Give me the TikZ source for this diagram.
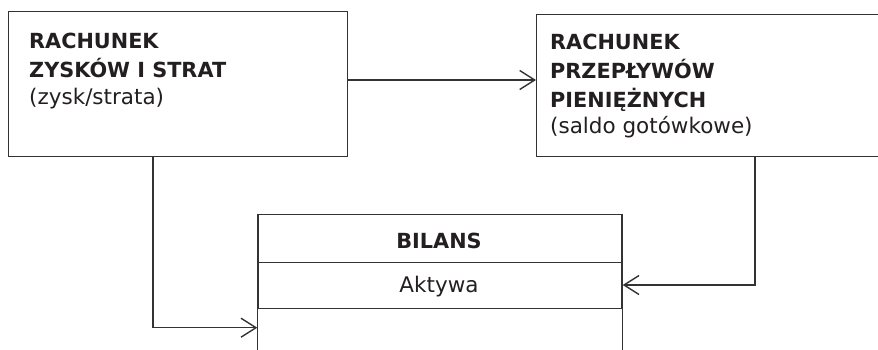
\documentclass[tikz,border=0pt]{standalone}
\usepackage{fontspec}
\setmainfont{DejaVu Sans}
\usetikzlibrary{arrows.meta}
\definecolor{ink}{HTML}{231F20}
\definecolor{linecol}{HTML}{333333}
\begin{document}
\begin{tikzpicture}[x=1pt,y=-1pt,
  box/.style={draw=linecol,line width=1.4pt,rectangle,inner sep=0pt},
  txt/.style={anchor=base west,inner sep=0pt,text=ink,font=\fontsize{21.5}{24}\selectfont},
  btxt/.style={txt,font=\fontsize{20.8}{24}\selectfont\bfseries},
  ctxt/.style={anchor=base,inner sep=0pt,text=ink,font=\fontsize{21.5}{24}\selectfont},
  conn/.style={draw=linecol,line width=1.4pt,-{Straight Barb[length=15pt,width=19pt,line width=1.4pt]}}
]
\useasboundingbox (0,0) rectangle (878,349);
% boxes
\node[box,minimum width=339pt,minimum height=144.5pt,anchor=north west] (zrs) at (8,11) {};
\node[box,minimum width=360pt,minimum height=142pt,anchor=north west] (rpp) at (536,14) {};
\node[box,minimum width=364pt,minimum height=48pt,anchor=north west] (bh) at (257.3,214) {};
\node[box,minimum width=364pt,minimum height=45.5pt,anchor=north west] (ba) at (257.3,262) {};
\draw[draw=linecol,line width=1.4pt] (ba.south west) -- ++(0,45);
\draw[draw=linecol,line width=1.4pt] (ba.south east) -- ++(0,45);
% texts
\node[btxt] (z1) at (29,48) {RACHUNEK};
\node[btxt] (z2) at (29,77) {ZYSKÓW I STRAT};
\node[txt] (z3) at (29,104) {(zysk/strata)};
\node[btxt] (r1) at (550,49) {RACHUNEK};
\node[btxt] (r2) at (550,78) {PRZEPŁYWÓW};
\node[btxt] (r3) at (550,107) {PIENIĘŻNYCH};
\node[txt] (r4) at (550,133) {(saldo gotówkowe)};
\node[ctxt,font=\fontsize{20.8}{24}\selectfont\bfseries] (bt) at (439,248) {BILANS};
\node[ctxt] (at) at (439,292) {Aktywa};
% connectors
\coordinate (bin) at (257.3,327.7);
\draw[conn] (zrs.east |- 0,80) -- (rpp.west |- 0,80);
\draw[conn] (zrs.south -| 153,0) |- (bin);
\draw[conn] (rpp.south -| 755,0) |- (ba.east |- 0,285);
\end{tikzpicture}
\end{document}
